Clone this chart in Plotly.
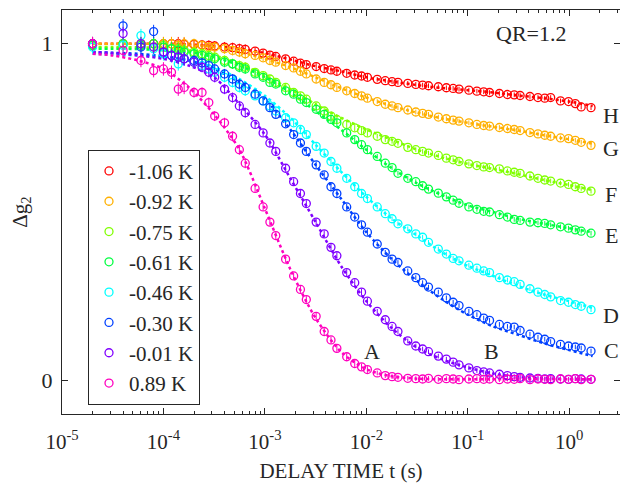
import plotly.graph_objects as go

# Delay times (s), multi-tau correlator lags
times = [2e-5, 4e-5, 6e-5, 8e-5, 1e-4, 1.2e-4, 1.4e-4, 1.6e-4,
         2.0e-4, 2.4e-4, 2.8e-4, 3.2e-4, 4.0e-4, 4.8e-4, 5.6e-4, 6.4e-4,
         8.0e-4, 9.6e-4, 1.12e-3, 1.28e-3, 1.6e-3, 1.92e-3, 2.24e-3, 2.56e-3,
         3.2e-3, 3.84e-3, 4.48e-3, 5.12e-3, 6.4e-3, 7.68e-3, 8.96e-3, 1.024e-2,
         1.28e-2, 1.536e-2, 1.792e-2, 2.048e-2, 2.56e-2, 3.072e-2, 3.584e-2, 4.096e-2,
         5.12e-2, 6.144e-2, 7.168e-2, 8.192e-2, 0.1024, 0.1229, 0.1434, 0.1638,
         0.2048, 0.2458, 0.2867, 0.3277, 0.4096, 0.4915, 0.5734, 0.6554,
         0.8192, 0.983, 1.147, 1.311, 1.638]

errors = [0.02, 0.02, 0.02, 0.02, 0.02, 0.02, 0.02, 0.02,
          0.015, 0.015, 0.015, 0.015, 0.015, 0.015, 0.015, 0.015,
          0.01, 0.01, 0.01, 0.01, 0.01, 0.01, 0.01, 0.01,
          0.01, 0.01, 0.01, 0.01, 0.01, 0.01, 0.01, 0.01,
          0.007, 0.007, 0.007, 0.007, 0.007, 0.007, 0.007, 0.007,
          0.007, 0.007, 0.007, 0.007, 0.007, 0.007, 0.007, 0.007,
          0.007, 0.007, 0.007, 0.007, 0.007, 0.007, 0.007, 0.007,
          0.007, 0.007, 0.007, 0.007, 0.007]

labels = ["-1.06 K", "-0.92 K", "-0.75 K", "-0.61 K", "-0.46 K", "-0.30 K", "-0.01 K", "0.89 K"]
colors = ["#FF0000", "#FFB000", "#80FF00", "#00FF40", "#00FFFF", "#0040FF", "#8000FF", "#FF00BF"]

red = [1.0, 1.0, 1.0, 1.0, 1.0, 1.0, 1.0, 0.998, 0.998, 0.996, 0.995, 0.993, 0.99, 0.988, 0.985, 0.983,
       0.978, 0.972, 0.966, 0.962, 0.955, 0.948, 0.942, 0.938, 0.932, 0.926, 0.922, 0.918, 0.912, 0.907,
       0.904, 0.9, 0.894, 0.89, 0.887, 0.885, 0.882, 0.879, 0.877, 0.875, 0.872, 0.869, 0.867, 0.865,
       0.862, 0.859, 0.857, 0.855, 0.852, 0.849, 0.848, 0.846, 0.843, 0.84, 0.838, 0.84, 0.83, 0.828,
       0.822, 0.812, 0.81]
orange = [1.0, 1.0, 1.0, 1.0, 1.0, 1.0, 0.995, 1.0, 1.0, 0.995, 0.99, 0.99, 0.985, 0.98, 0.975, 0.97,
          0.965, 0.958, 0.95, 0.945, 0.935, 0.928, 0.918, 0.91, 0.895, 0.885, 0.878, 0.87, 0.86, 0.852,
          0.845, 0.838, 0.828, 0.82, 0.815, 0.81, 0.803, 0.797, 0.793, 0.79, 0.782, 0.777, 0.773, 0.77,
          0.765, 0.76, 0.757, 0.755, 0.751, 0.748, 0.745, 0.742, 0.736, 0.732, 0.728, 0.725, 0.72, 0.718,
          0.713, 0.707, 0.698]
yellowgreen = [0.995, 1.0, 1.0, 0.99, 0.995, 0.985, 0.985, 0.98, 0.975, 0.97, 0.965, 0.96, 0.95, 0.94,
               0.935, 0.93, 0.915, 0.905, 0.895, 0.885, 0.87, 0.855, 0.845, 0.835, 0.815, 0.8, 0.785, 0.775,
               0.76, 0.75, 0.742, 0.735, 0.725, 0.715, 0.71, 0.704, 0.692, 0.685, 0.68, 0.675, 0.668, 0.66,
               0.655, 0.65, 0.643, 0.638, 0.634, 0.632, 0.628, 0.622, 0.618, 0.615, 0.607, 0.6, 0.595, 0.592,
               0.586, 0.582, 0.575, 0.57, 0.562]
green = [0.995, 1.0, 0.995, 1.0, 0.99, 0.985, 0.98, 0.975, 0.97, 0.965, 0.96, 0.955, 0.945, 0.94, 0.93,
         0.925, 0.91, 0.9, 0.885, 0.88, 0.86, 0.85, 0.835, 0.825, 0.805, 0.79, 0.775, 0.765, 0.735, 0.715,
         0.7, 0.685, 0.665, 0.645, 0.632, 0.615, 0.6, 0.59, 0.578, 0.568, 0.556, 0.545, 0.535, 0.526, 0.515,
         0.508, 0.502, 0.5, 0.492, 0.485, 0.478, 0.475, 0.47, 0.468, 0.466, 0.462, 0.456, 0.452, 0.447,
         0.443, 0.437]
cyan = [0.99, 0.995, 1.024, 0.985, 0.97, 0.965, 0.94, 0.955, 0.945, 0.935, 0.925, 0.915, 0.9, 0.885, 0.87,
        0.86, 0.845, 0.83, 0.815, 0.8, 0.78, 0.765, 0.745, 0.73, 0.695, 0.675, 0.65, 0.63, 0.6, 0.575, 0.555,
        0.54, 0.515, 0.495, 0.48, 0.465, 0.45, 0.435, 0.425, 0.41, 0.39, 0.375, 0.362, 0.355, 0.342, 0.333,
        0.325, 0.32, 0.305, 0.298, 0.293, 0.285, 0.272, 0.262, 0.255, 0.248, 0.237, 0.232, 0.225, 0.22, 0.21]
blue = [1.0, 1.053, 0.99, 1.036, 0.975, 0.965, 0.96, 0.955, 0.95, 0.943, 0.935, 0.925, 0.91, 0.895, 0.88,
        0.87, 0.85, 0.83, 0.81, 0.79, 0.762, 0.73, 0.705, 0.68, 0.64, 0.61, 0.575, 0.555, 0.515, 0.485, 0.462,
        0.44, 0.405, 0.38, 0.36, 0.35, 0.325, 0.305, 0.29, 0.277, 0.262, 0.245, 0.232, 0.222, 0.205, 0.195,
        0.185, 0.178, 0.166, 0.16, 0.158, 0.148, 0.137, 0.128, 0.122, 0.115, 0.107, 0.102, 0.099, 0.096, 0.087]
purple = [1.0, 1.03, 1.0, 0.99, 0.975, 0.965, 0.96, 0.955, 0.945, 0.93, 0.915, 0.9, 0.865, 0.84, 0.815,
          0.795, 0.76, 0.735, 0.705, 0.68, 0.63, 0.59, 0.555, 0.525, 0.47, 0.435, 0.395, 0.37, 0.32, 0.29,
          0.262, 0.235, 0.205, 0.18, 0.16, 0.145, 0.117, 0.102, 0.093, 0.085, 0.072, 0.063, 0.054, 0.046,
          0.037, 0.029, 0.025, 0.022, 0.018, 0.014, 0.011, 0.009, 0.007, 0.006, 0.004, 0.005, 0.004, 0.003,
          0.005, 0.004, 0.003]
magenta = [1.0, 0.98, 0.95, 0.92, 0.925, 0.915, 0.865, 0.87, 0.855, 0.855, 0.825, 0.785, 0.765, 0.725,
           0.685, 0.645, 0.57, 0.515, 0.47, 0.43, 0.36, 0.31, 0.27, 0.24, 0.19, 0.145, 0.12, 0.095, 0.07,
           0.05, 0.04, 0.032, 0.022, 0.014, 0.011, 0.009, 0.006, 0.005, 0.004, 0.006, 0.003, 0.005, 0.004,
           0.002, 0.004, 0.005, 0.003, 0.004, 0.002, 0.004, 0.003, 0.005, 0.002, 0.004, 0.003, 0.002, 0.004,
           0.003, 0.005, 0.002, 0.003]

# Fit curves sampled on a coarse log grid
fit_times = [2e-5, 3.16e-5, 5.62e-5, 1e-4, 1.78e-4, 3.16e-4, 5.62e-4, 1e-3, 1.78e-3, 3.16e-3, 5.62e-3,
             1e-2, 1.78e-2, 3.16e-2, 5.62e-2, 0.1, 0.178, 0.316, 0.562, 1.0, 1.7]
fit_red = [1.0, 1.0, 1.0, 1.0, 0.998, 0.993, 0.985, 0.972, 0.953, 0.933, 0.918, 0.9, 0.888, 0.877, 0.868,
           0.862, 0.855, 0.846, 0.838, 0.828, 0.815]
fit_orange = [1.0, 1.0, 1.0, 0.998, 0.995, 0.99, 0.975, 0.955, 0.93, 0.9, 0.868, 0.84, 0.815, 0.795, 0.778,
              0.765, 0.753, 0.742, 0.728, 0.716, 0.703]
fit_yellowgreen = [0.99, 0.99, 0.989, 0.988, 0.98, 0.965, 0.94, 0.905, 0.865, 0.82, 0.78, 0.745, 0.715,
                   0.685, 0.662, 0.643, 0.628, 0.612, 0.595, 0.58, 0.565]
fit_green = [0.985, 0.985, 0.984, 0.98, 0.975, 0.96, 0.935, 0.9, 0.855, 0.8, 0.745, 0.685, 0.63, 0.585,
             0.55, 0.52, 0.5, 0.48, 0.465, 0.452, 0.44]
fit_cyan = [0.97, 0.968, 0.965, 0.96, 0.95, 0.93, 0.895, 0.845, 0.78, 0.7, 0.62, 0.545, 0.48, 0.43, 0.38,
            0.34, 0.31, 0.28, 0.255, 0.235, 0.215]
fit_blue = [0.975, 0.973, 0.97, 0.963, 0.95, 0.925, 0.885, 0.835, 0.745, 0.64, 0.54, 0.44, 0.36, 0.295,
            0.24, 0.195, 0.16, 0.135, 0.11, 0.09, 0.072]
fit_purple = [0.975, 0.972, 0.965, 0.955, 0.935, 0.9, 0.82, 0.73, 0.6, 0.47, 0.34, 0.235, 0.155, 0.097,
              0.062, 0.038, 0.02, 0.01, 0.006, 0.004, 0.003]
fit_magenta = [0.97, 0.965, 0.95, 0.925, 0.87, 0.79, 0.685, 0.51, 0.33, 0.185, 0.085, 0.033, 0.012, 0.005,
               0.003, 0.003, 0.003, 0.003, 0.003, 0.003, 0.003]

series = [red, orange, yellowgreen, green, cyan, blue, purple, magenta]
fits = [fit_red, fit_orange, fit_yellowgreen, fit_green, fit_cyan, fit_blue, fit_purple, fit_magenta]

# axis ticks
x_major = [1e-5, 1e-4, 1e-3, 1e-2, 1e-1, 1]
x_major_text = ["10<sup>-5</sup>", "10<sup>-4</sup>", "10<sup>-3</sup>", "10<sup>-2</sup>",
                "10<sup>-1</sup>", "10<sup>0</sup>"]
x_minor = [m * d for d in [1e-5, 1e-4, 1e-3, 1e-2, 1e-1, 1] for m in [2, 3, 4, 5, 6, 7, 8, 9]]
y_ticks = [0, 1]
y_tick_text = ["0", "1"]

FONT = "Liberation Serif, Times New Roman, Times, serif"
TXT = "#262626"
AX = "#262626"

fig = go.Figure()
for fy, col in zip(fits, colors):
    fig.add_trace(go.Scatter(
        x=fit_times, y=fy, mode="lines", showlegend=False, hoverinfo="skip",
        line=dict(color=col, width=2.5, dash="dot", shape="spline", smoothing=0.8)))
for ys, lab, col in zip(series, labels, colors):
    fig.add_trace(go.Scatter(
        x=times, y=ys, mode="markers", name=lab,
        marker=dict(symbol="circle-open", size=8, color=col, line=dict(width=1.3, color=col)),
        error_y=dict(type="data", array=errors, visible=True, color=col, thickness=1, width=0)))

# invisible trace on the minor-tick axis so it is drawn
fig.add_trace(go.Scatter(x=[times[0]], y=[red[0]], xaxis="x2", mode="markers",
                         marker=dict(opacity=0), showlegend=False, hoverinfo="skip"))

annotations = [
    dict(x=0.4115, y=0.787, text="H"), dict(x=0.4115, y=0.689, text="G"),
    dict(x=0.4115, y=0.553, text="F"), dict(x=0.4115, y=0.429, text="E"),
    dict(x=0.4115, y=0.192, text="D"), dict(x=0.4115, y=0.089, text="C"),
    dict(x=-0.771, y=0.086, text="B"), dict(x=-1.944, y=0.086, text="A"),
    dict(x=-0.377, y=1.03, text="QR=1.2"),
]
for a in annotations:
    a.update(xref="x", yref="y", showarrow=False, font=dict(family=FONT, size=22, color=TXT),
             xanchor="center", yanchor="middle")

# The page body adds an 8 px offset, so the figure is 8 px smaller and the margins shifted
fig.update_layout(
    width=620, height=475,
    margin=dict(l=54, r=8, t=2, b=69, autoexpand=False),
    paper_bgcolor="white", plot_bgcolor="white",
    font=dict(family=FONT, size=21, color=TXT),
    showlegend=True,
    legend=dict(x=0.0466, y=0.654, xanchor="left", yanchor="top",
                bgcolor="white", bordercolor=AX, borderwidth=1,
                font=dict(family=FONT, size=21, color=TXT), itemwidth=30, tracegroupgap=0),
    annotations=annotations,
    xaxis=dict(type="log", range=[-5, 0.5], showgrid=False, zeroline=False, automargin=False,
               showline=True, linecolor=AX, linewidth=1, mirror="ticks",
               ticks="inside", ticklen=6, tickcolor=AX,
               tickvals=x_major, ticktext=x_major_text, ticklabelstandoff=9,
               title=dict(text="DELAY TIME t (s)", font=dict(family=FONT, size=21, color=TXT), standoff=10),
               tickfont=dict(family=FONT, size=21, color=TXT)),
    xaxis2=dict(type="log", range=[-5, 0.5], overlaying="x", side="bottom", showgrid=False,
                zeroline=False, automargin=False, showline=False, mirror="ticks",
                ticks="inside", ticklen=3, tickcolor=AX, tickvals=x_minor, showticklabels=False),
    yaxis=dict(range=[-0.1, 1.1], showgrid=False, zeroline=False, automargin=False,
               showline=True, linecolor=AX, linewidth=1, mirror="ticks",
               ticks="inside", ticklen=6, tickcolor=AX,
               tickvals=y_ticks, ticktext=y_tick_text, ticklabelstandoff=4,
               title=dict(text="Δg<sub>2</sub>", font=dict(family=FONT, size=21, color=TXT), standoff=10),
               tickfont=dict(family=FONT, size=22, color=TXT)),
)

fig.write_html("out.html")
